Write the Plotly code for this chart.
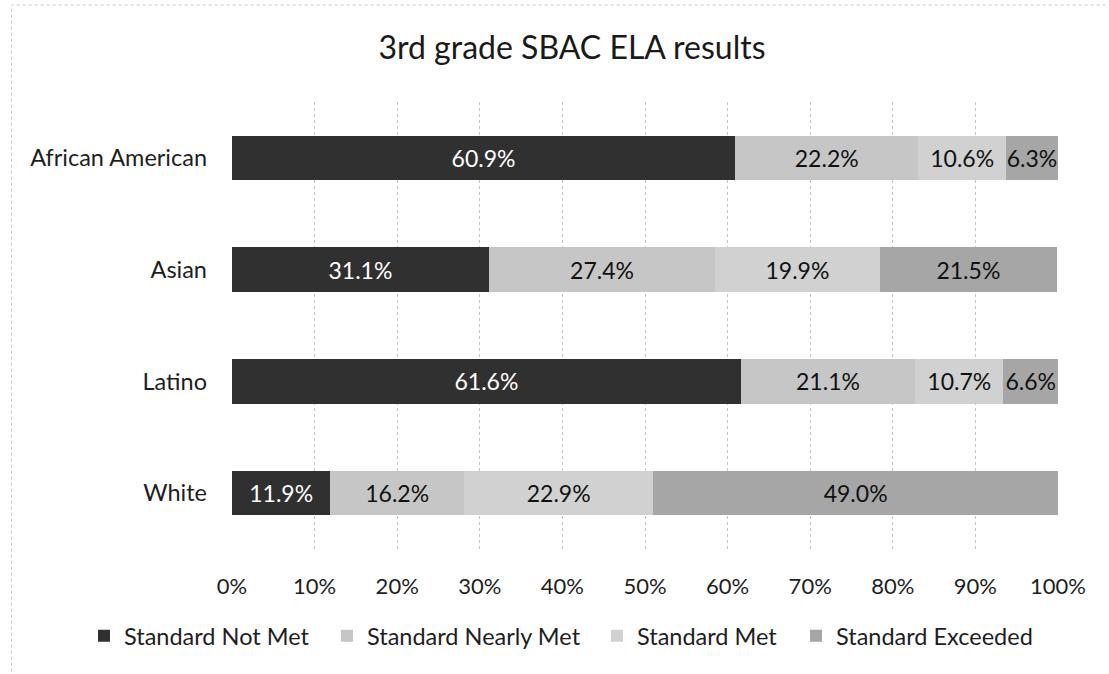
import plotly.graph_objects as go

# Student groups, top to bottom
groups = ["African American", "Asian", "Latino", "White"]

# Share of students (%) in each achievement level
not_met = [60.9, 31.1, 61.6, 11.9]
nearly_met = [22.2, 27.4, 21.1, 16.2]
met = [10.6, 19.9, 10.7, 22.9]
exceeded = [6.3, 21.5, 6.6, 49.0]

x_ticks = [0, 10, 20, 30, 40, 50, 60, 70, 80, 90, 100]
x_tick_text = [f"{v}%" for v in x_ticks]

FONT = "Lato, 'Open Sans', sans-serif"
TEXT = "#1e1e1e"

# name, values, fill, label colour, legend id, legend left edge (px)
levels = [
    ("Standard Not Met", not_met, "#303030", "white", "legend", 84),
    ("Standard Nearly Met", nearly_met, "#c6c6c6", "#111111", "legend2", 327),
    ("Standard Met", met, "#d1d1d1", "#111111", "legend3", 597),
    ("Standard Exceeded", exceeded, "#a6a6a6", "#111111", "legend4", 796),
]

W, H = 1109, 674

fig = go.Figure()
legend_layouts = {}
for name, vals, color, txt, leg, left in levels:
    fig.add_trace(go.Bar(
        y=groups,
        x=vals,
        name=name,
        orientation="h",
        legend=leg,
        showlegend=True,
        marker=dict(color=color, line=dict(width=0)),
        text=[f"{v:.1f}%" for v in vals],
        textposition="inside",
        insidetextanchor="middle",
        constraintext="none",
        textfont=dict(family=FONT, size=23, color=txt),
        hoverinfo="skip",
    ))
    legend_layouts[leg] = dict(
        orientation="h",
        xref="container", x=left / W, xanchor="left",
        yref="container", y=(H - 636) / H, yanchor="middle",
        font=dict(family=FONT, size=23.5, color=TEXT),
        itemwidth=30,
        bgcolor="rgba(0,0,0,0)",
    )

fig.update_layout(
    barmode="stack",
    bargap=0.6,
    width=W,
    height=H,
    showlegend=True,
    paper_bgcolor="white",
    plot_bgcolor="white",
    margin=dict(l=232, r=51, t=102, b=125, autoexpand=False),
    font=dict(family=FONT, size=22, color=TEXT),
    title=dict(
        text="3rd grade SBAC ELA results",
        font=dict(family=FONT, size=32, color="#1a1a1a"),
        x=572 / W, xref="container", xanchor="center",
        y=(H - 48) / H, yref="container", yanchor="middle",
    ),
    xaxis=dict(
        range=[0, 100],
        tickvals=x_ticks,
        ticktext=x_tick_text,
        showgrid=True,
        gridcolor="#c4c4c4",
        griddash="dot",
        gridwidth=1,
        zeroline=False,
        showline=False,
        ticks="",
        ticklabelstandoff=22,
        tickfont=dict(family=FONT, size=22, color=TEXT),
        fixedrange=True,
    ),
    yaxis=dict(
        categoryorder="array",
        categoryarray=groups,
        autorange="reversed",
        showgrid=False,
        zeroline=False,
        showline=False,
        ticks="",
        ticklabelstandoff=24,
        tickfont=dict(family=FONT, size=23.5, color=TEXT),
        fixedrange=True,
    ),
    shapes=[dict(
        type="rect", xref="paper", yref="paper",
        x0=-0.267, x1=1.2, y0=-0.4, y1=1.217,
        line=dict(color="#c8c8c8", width=1, dash="dot"),
    )],
    **legend_layouts,
)

fig.write_html("out.html")
